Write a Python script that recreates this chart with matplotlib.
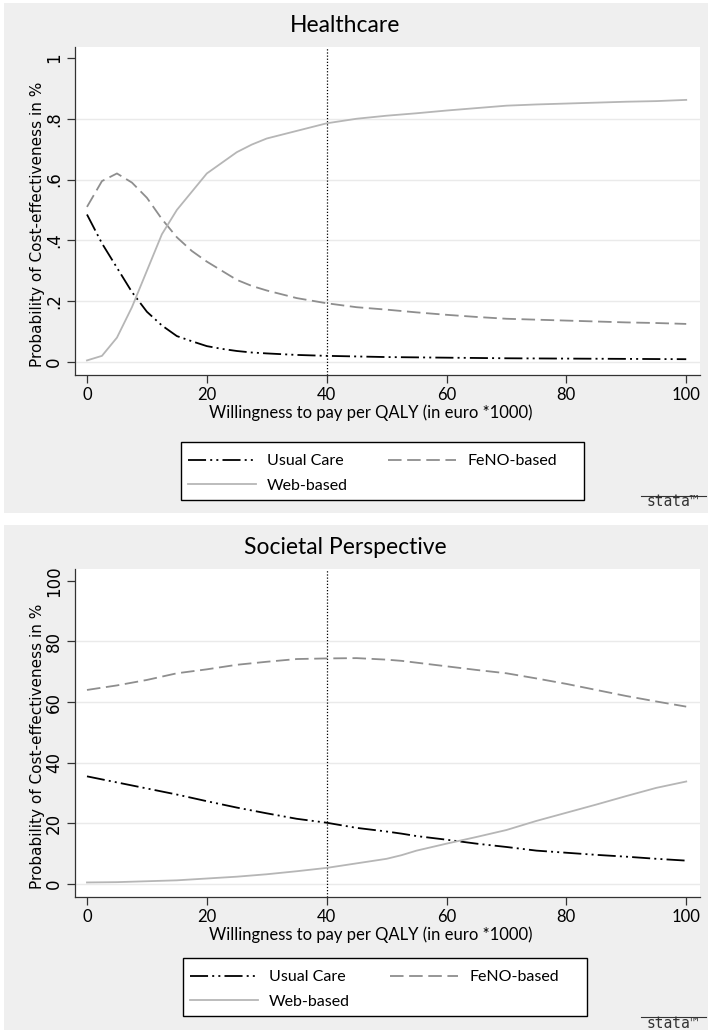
import matplotlib
matplotlib.use("Agg")
import matplotlib.pyplot as plt
from matplotlib.patches import Rectangle
from matplotlib.lines import Line2D

# Healthcare perspective (probability 0-1)
wtp_hc = [0, 2.5, 5, 7.5, 10, 12.5, 15, 17.5, 20, 22.5, 25, 27.5, 30, 35, 40, 45, 50,
          55, 60, 65, 70, 75, 80, 85, 90, 95, 100]
usual_hc = [0.485, 0.39, 0.31, 0.23, 0.165, 0.12, 0.085, 0.068, 0.052, 0.043, 0.036, 0.031,
            0.028, 0.023, 0.020, 0.018, 0.016, 0.015, 0.014, 0.013, 0.012, 0.0115, 0.011,
            0.0105, 0.010, 0.0095, 0.009]
feno_hc = [0.51, 0.595, 0.62, 0.59, 0.54, 0.47, 0.41, 0.365, 0.33, 0.30, 0.27, 0.25, 0.235,
           0.21, 0.193, 0.18, 0.172, 0.163, 0.155, 0.148, 0.142, 0.139, 0.136, 0.133, 0.13,
           0.128, 0.125]
web_hc = [0.005, 0.02, 0.08, 0.18, 0.30, 0.42, 0.50, 0.56, 0.62, 0.655, 0.69, 0.715, 0.735,
          0.76, 0.785, 0.80, 0.81, 0.818, 0.827, 0.835, 0.843, 0.847, 0.85, 0.853, 0.856,
          0.858, 0.862]

# Societal perspective (percent)
wtp_soc = [0, 5, 10, 15, 20, 25, 30, 35, 40, 45, 50, 52.5, 55, 60, 65, 70, 75, 80, 85, 90, 95, 100]
usual_soc = [35.5, 33.5, 31.5, 29.5, 27.3, 25.2, 23.3, 21.5, 20.2, 18.5, 17.3, 16.6, 15.8,
             14.6, 13.3, 12.2, 11.0, 10.3, 9.6, 9.0, 8.3, 7.7]
feno_soc = [64.0, 65.5, 67.3, 69.5, 70.8, 72.3, 73.3, 74.2, 74.4, 74.5, 74.0, 73.6, 73.0,
            71.8, 70.6, 69.5, 67.8, 66.0, 64.0, 62.0, 60.2, 58.5]
web_soc = [0.5, 0.6, 0.9, 1.2, 1.8, 2.4, 3.2, 4.2, 5.3, 6.8, 8.3, 9.5, 11.0, 13.3, 15.5,
           17.8, 20.8, 23.5, 26.2, 29.0, 31.7, 33.8]

x_ticks = [0, 20, 40, 60, 80, 100]
y_ticks_hc = [0, 0.2, 0.4, 0.6, 0.8, 1.0]
y_labels_hc = ["0", ".2", ".4", ".6", ".8", "1"]
y_ticks_soc = [0, 20, 40, 60, 80, 100]
y_labels_soc = ["0", "20", "40", "60", "80", "100"]

W, H = 708, 1030
BG = "#efefef"
NARROW = ["Lato", "DejaVu Sans"]

fig = plt.figure(figsize=(W / 100, H / 100), dpi=100)
fig.patch.set_facecolor("white")


def px(x0, y0, x1, y1):
    return [x0 / W, 1 - y1 / H, (x1 - x0) / W, (y1 - y0) / H]


def fy(y):
    return 1 - y / H


def panel(top, bottom, title, wtp, usual, feno, web, yticks, ylabels, ylim, leg_box, logo_y):
    # grey panel background
    bg = fig.add_axes(px(4, top, W, bottom), zorder=0)
    bg.set_facecolor(BG)
    bg.set_xticks([])
    bg.set_yticks([])
    for s in bg.spines.values():
        s.set_visible(False)

    ax = fig.add_axes(px(75, top + 44, 700, top + 372), zorder=2)
    ax.set_facecolor("white")
    for s in ["top", "right"]:
        ax.spines[s].set_visible(False)
    for s in ["left", "bottom"]:
        ax.spines[s].set_color("#333333")
        ax.spines[s].set_linewidth(0.9)
    ax.set_xlim(-2.0, 102.3)
    ax.set_ylim(*ylim)
    ax.set_xticks(x_ticks)
    ax.set_yticks(yticks)
    ax.set_yticklabels(ylabels, rotation=90, va="center", fontsize=12, family="DejaVu Sans")
    ax.set_xticklabels([str(t) for t in x_ticks], fontsize=12, family=NARROW)
    ax.tick_params(direction="out", length=5.8, width=0.9, color="#333333", pad=3)
    for t in yticks[:-1]:
        ax.axhline(t, color="#eaeaea", lw=1.0, zorder=0)
    ax.axvline(40, color="black", lw=0.9, ls=(0, (1, 1.5)), zorder=1)
    l1, = ax.plot(wtp, usual, color="black", lw=1.3, ls=(0, (10, 2.3, 1.1, 2.3, 1.1, 2.3)),
                  zorder=3)
    l2, = ax.plot(wtp, feno, color="#8e8e8e", lw=1.3, ls=(0, (7.5, 3.1)), zorder=3)
    l3, = ax.plot(wtp, web, color="#b6b6b6", lw=1.3, zorder=3)
    ax.set_xlabel("Willingness to pay per QALY (in euro *1000)", fontsize=12, family=NARROW)
    ax.xaxis.set_label_coords((371 - 75) / 625, -(401 - 372) / 328)
    ax.set_ylabel("Probability of Cost-effectiveness in %", fontsize=11,
                  family="DejaVu Sans")
    ax.yaxis.set_label_coords((45 - 75) / 625, 1 - (224 - 47) / 328)

    fig.text(345 / W, fy(top + 29), title, fontsize=16.5, family=NARROW,
             ha="center", va="baseline", zorder=3)

    # legend with a plain black frame, Stata style
    x0, y0, x1, y1 = leg_box
    fig.patches.append(Rectangle((x0 / W, fy(y1)), (x1 - x0) / W, (y1 - y0) / H,
                                 transform=fig.transFigure, facecolor="white",
                                 edgecolor="black", lw=1.0, zorder=1))
    leg = fig.legend([l1, l3, l2], ["Usual Care", "Web-based", "FeNO-based"], ncol=2,
                     loc="upper left", bbox_to_anchor=((x0 + 7) / W, fy(y0 + 12)),
                     frameon=False, prop={"family": NARROW, "size": 11.5},
                     handlelength=4.25, handletextpad=0.7, columnspacing=2.5,
                     labelspacing=0.65, borderpad=0, borderaxespad=0)
    leg.set_zorder(4)

    fig.text(673 / W, fy(logo_y), "stata\u2122", fontsize=10.5, family="DejaVu Sans Mono",
             ha="center", va="center", color="#333333", zorder=3)
    fig.lines.append(Line2D([641 / W, 706 / W], [fy(logo_y - 6)] * 2,
                            transform=fig.transFigure, color="#333333", lw=0.8, zorder=3))
    return ax


panel(3, 513, "Healthcare", wtp_hc, usual_hc, feno_hc, web_hc, y_ticks_hc, y_labels_hc,
      (-0.043, 1.036), (181, 442, 584, 500), 502)
panel(525, 1030, "Societal Perspective", wtp_soc, usual_soc, feno_soc, web_soc, y_ticks_soc,
      y_labels_soc, (-4.3, 103.9), (183, 958, 587, 1016), 1023)

fig.savefig("out.png", dpi=100, facecolor="white")
